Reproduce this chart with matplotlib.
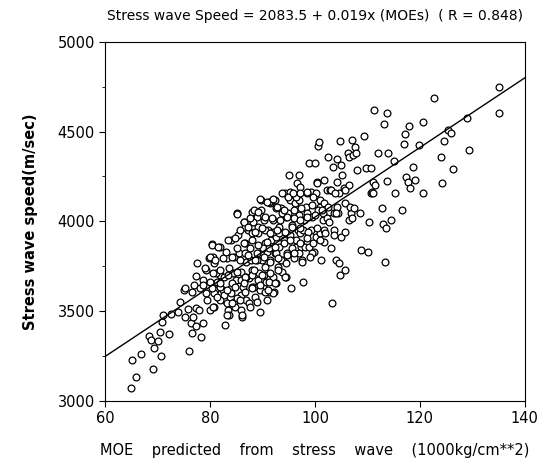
import numpy as np
import matplotlib
matplotlib.use('Agg')
import matplotlib.pyplot as plt
from matplotlib.ticker import MultipleLocator

# MOE predicted from stress wave (1000 kg/cm**2) and measured stress wave speed (m/sec)
moe = [
    65.0, 65.8, 65.2, 66.8, 68.3, 68.8, 69.3, 69.1, 70.0, 70.5, 70.7, 70.8, 71.1, 72.1,
    72.5, 73.9, 74.2, 75.3, 75.9, 75.7, 75.1, 75.3, 76.3, 76.5, 76.7, 77.3, 77.4, 77.9,
    78.3, 78.6, 76.5, 77.0, 77.4, 77.5, 78.0, 78.6, 79.2, 79.3, 79.8, 80.3, 80.7, 80.9,
    79.9, 80.7, 81.8, 81.3, 81.9, 82.4, 82.6, 82.8, 83.4, 83.6, 83.2, 83.6, 83.9, 84.3,
    84.5, 84.6, 84.9, 85.2, 85.4, 85.6, 85.9, 85.9, 86.1, 86.2, 86.4, 86.6, 86.8, 86.9,
    87.2, 87.4, 87.6, 87.9, 88.0, 88.4, 88.6, 88.9, 89.0, 89.2, 89.4, 89.5, 89.7, 89.9,
    90.0, 90.2, 90.4, 90.5, 90.7, 90.9, 91.1, 91.2, 91.4, 91.5, 91.7, 91.9, 92.0, 92.1,
    92.3, 92.4, 92.5, 92.9, 93.1, 93.2, 93.5, 93.9, 94.2, 94.4, 94.5, 94.7, 95.1, 95.2,
    95.3, 95.5, 95.7, 95.9, 96.2, 96.4, 96.5, 96.7, 96.9, 97.0, 97.3, 97.5, 97.7, 97.9,
    98.2, 98.5, 98.8, 99.2, 99.5, 99.8, 100.0, 100.2, 100.4, 100.5, 100.8, 101.0, 101.2,
    101.5, 101.7, 101.8, 102.2, 102.5, 102.6, 102.8, 103.0, 103.3, 103.5, 103.7, 104.0,
    104.2, 104.4, 104.5, 104.6, 104.8, 104.8, 105.0, 105.2, 105.5, 105.7, 105.8, 106.2,
    106.4, 106.5, 106.8, 107.0, 107.3, 107.7, 108.0, 108.5, 108.7, 109.3, 109.7, 110.1,
    110.3, 110.6, 111.0, 111.2, 111.5, 112.1, 112.8, 113.0, 113.1, 113.3, 113.5, 113.7,
    113.8, 114.0, 114.4, 115.3, 115.0, 116.5, 116.9, 117.2, 117.4, 117.8, 118.0, 118.2,
    118.6, 119.1, 119.9, 120.6, 120.6, 122.6, 124.1, 124.3, 124.5, 125.4, 126.0, 126.3,
    129.0, 129.4, 135.0, 135.0,
    95.3, 96.4, 97.1, 98.5, 100.2, 101.0, 101.8, 103.0, 103.8,
    92.5, 93.7, 94.9, 95.9, 97.3, 98.5, 99.5, 100.5, 101.5, 102.2, 102.6, 103.7, 104.2,
    87.9, 89.2, 90.5, 91.9, 93.2, 94.0, 95.2, 96.3, 97.2, 97.8, 99.2, 100.2, 101.0, 101.8,
    85.2, 86.6, 87.8, 88.9, 90.0, 91.2, 92.5, 93.5, 94.5, 95.7, 96.9, 98.0, 98.8, 99.5,
    81.2, 82.6, 84.2, 85.8, 86.9, 87.9, 89.1, 90.2, 91.3, 92.5, 93.7, 94.5,
    82.6, 83.9, 85.2, 86.6, 87.9, 89.5, 90.5, 92.0,
    81.9, 83.2, 84.7, 85.9, 87.4, 88.9,
    89.7, 91.2, 88.1, 86.6, 83.9, 83.1, 80.6, 79.9, 81.9, 80.7,
    96.9, 106.5, 105.8, 106.6, 107.5, 107.1, 104.2, 105.0, 110.8, 103.7, 105.8,
    107.9, 110.6, 111.1,
    # dense core, second pass
    100.3, 93.7, 94.9, 95.8, 89.5, 90.8, 91.9, 97.1, 98.4, 99.7, 88.3, 89.2, 92.7, 94.0,
    85.1, 86.4, 87.6,
    90.5, 91.8, 93.3, 94.6, 95.9, 97.1, 98.4, 100.0, 101.3, 102.5, 104.0,
    85.7, 87.3, 88.6, 89.8, 91.4, 92.7, 94.3, 95.6, 97.1, 98.7, 100.3, 101.9,
    80.3, 81.6,
    83.5, 84.8, 86.4, 87.9, 89.2, 90.8, 92.4, 94.0, 95.2, 97.1, 98.4, 99.7, 101.0,
    80.0, 81.0, 82.5, 84.1, 85.7, 87.3, 88.6, 90.2, 91.4, 93.0, 94.6, 95.9, 97.5, 99.1,
    79.0, 80.6, 81.9, 83.5, 85.1, 86.7, 88.3, 89.8, 91.4, 93.0, 94.3,
    78.7, 80.3, 81.9, 83.2, 84.8, 86.4, 88.0, 89.5, 91.1, 92.4,
    79.4, 81.3, 84.1, 85.7, 87.6, 90.8,
    80.6, 83.2, 86.0,
]
speed = [
    3074, 3132, 3226, 3260, 3362, 3340, 3293, 3176, 3336, 3386, 3247, 3438, 3479, 3371,
    3482, 3493, 3553, 3469, 3276, 3514, 3618, 3627, 3436, 3377, 3469, 3516, 3417, 3506,
    3354, 3436, 3609, 3646, 3697, 3766, 3631, 3673, 3599, 3729, 3794, 3872, 3766, 3618,
    3506, 3525, 3859, 3664, 3701, 3618, 3562, 3423, 3506, 3479, 3794, 3738, 3627, 3710,
    3553, 3803, 3673, 4044, 3924, 3822, 3720, 3590, 3469, 3636, 3998, 3877, 3775, 3562,
    3951, 3683, 3849, 4053, 3729, 3636, 3581, 4025, 3822, 3933, 3710, 3497, 4118, 3785,
    3636, 4007, 3877, 3748, 3664, 3831, 3951, 3608, 4100, 3785, 3896, 3692, 4007, 3608,
    4118, 3822, 3914, 3748, 3970, 3859, 4072, 3785, 4156, 3933, 4025, 3822, 4258, 4118,
    3896, 3627, 3979, 3794, 4100, 3859, 4211, 3951, 4035, 4118, 3859, 3785, 3664, 4007,
    4081, 3887, 4326, 4165, 4025, 3831, 4323, 3942, 4221, 4421, 4443, 4081, 3785,
    4007, 4230, 3887, 4174, 4360, 4053, 4174, 3850, 3547, 4304, 3951, 3785,
    4350, 4044, 3766, 4156, 4447, 3701, 3914, 4258, 4183, 3729, 4100, 4378,
    4007, 4360, 4044, 4453, 4369, 4415, 4286, 4044, 3840, 4475, 4295, 3831,
    3998, 4156, 4221, 4619, 4202, 4378, 4072, 3985, 4541, 3775, 3961, 4224,
    4606, 4378, 4007, 4156, 4337, 4063, 4430, 4484, 4248, 4221, 4532, 4183,
    4304, 4230, 4425, 4555, 4156, 4688, 4360, 4211, 4447, 4508, 4490, 4289,
    4573, 4397, 4746, 4601,
    4165, 4137, 4193, 4156, 4156, 4119, 4100, 4174, 4159,
    4072, 4044, 4044, 4063, 4072, 4044, 4091, 4063, 4044, 4017, 3998, 4044, 4081,
    3933, 3970, 3952, 3942, 3933, 3896, 3924, 3896, 3933, 3952, 3952, 3915, 3933, 3952,
    3850, 3822, 3785, 3785, 3850, 3850, 3822, 3785, 3766, 3850, 3822, 3859, 3859, 3822,
    3710, 3692, 3655, 3673, 3692, 3701, 3673, 3701, 3664, 3655, 3720, 3692,
    3590, 3599, 3571, 3608, 3636, 3618, 3608, 3599,
    3562, 3544, 3525, 3506, 3544, 3553,
    4063, 4109, 3998, 3970, 3896, 3831, 3803, 3664, 3636, 3599,
    4258, 4202, 4174, 4081, 4072, 4017, 4221, 4313, 4165, 3924, 3942,
    4378, 4295, 4156,
    # dense core, second pass
    4216, 4156, 4138, 4156, 4123, 4110, 4123, 4156, 4166, 4138, 4063, 4054, 4082, 4063,
    4041, 3998, 4017,
    4026, 4017, 4008, 4026, 4017, 4008, 4026, 4036, 4063, 4082, 4045,
    3952, 3971, 3943, 3961, 3933, 3952, 3943, 3971, 3961, 3943, 3961, 3933,
    3868, 3859,
    3896, 3906, 3878, 3896, 3868, 3887, 3859, 3878, 3896, 3878, 3906, 3878, 3896,
    3803, 3785, 3794, 3803, 3785, 3813, 3785, 3803, 3776, 3794, 3813, 3822, 3776, 3803,
    3738, 3711, 3729, 3701, 3720, 3692, 3729, 3701, 3711, 3729, 3692,
    3646, 3627, 3655, 3618, 3636, 3655, 3627, 3646, 3618, 3655,
    3562, 3581, 3544, 3562, 3525, 3562,
    3525, 3478, 3478,
]

# regression line
intercept = 2083.5
slope = 19.4
x_range = [60, 140]

fig = plt.figure(figsize=(5.45, 4.65), dpi=100)
ax = fig.add_axes([0.193, 0.138, 0.77, 0.772])

ax.scatter(moe, speed, s=24, facecolors='white', edgecolors='black', linewidths=0.9, zorder=2)
line_x = np.array(x_range)
ax.plot(line_x, intercept + slope * line_x, color='black', lw=1.0, zorder=3)

ax.set_xlim(60, 140)
ax.set_ylim(3000, 5000)
ax.xaxis.set_major_locator(MultipleLocator(20))
ax.yaxis.set_major_locator(MultipleLocator(500))
ax.yaxis.set_minor_locator(MultipleLocator(250))
ax.tick_params(which='major', direction='out', length=4, width=0.8, labelsize=10.5)
ax.tick_params(which='minor', direction='out', length=2, width=0.6)
for s in ax.spines.values():
    s.set_linewidth(0.8)

ax.set_title('Stress wave Speed = 2083.5 + 0.019x (MOEs)  ( R = 0.848)', fontsize=10, pad=16)
ax.set_xlabel('MOE    predicted    from    stress    wave    (1000kg/cm**2)', fontsize=10.5, labelpad=12)
ax.set_ylabel('Stress wave speed(m/sec)', fontsize=10.5, fontweight='bold', labelpad=14)

fig.savefig('out.png', dpi=100)
